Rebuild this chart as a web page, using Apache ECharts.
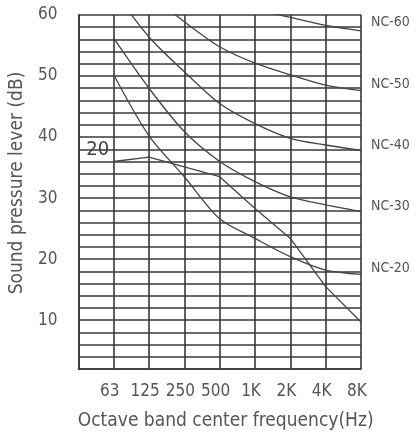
<!DOCTYPE html>
<html><head><meta charset="utf-8">
<script src="https://cdn.jsdelivr.net/npm/echarts@6/dist/echarts.min.js"></script>
<style>html,body{margin:0;padding:0;background:#fff}#c{width:417px;height:438px}</style>
</head><body><div id="c"></div>
<script>
// x categories: index 0 is the left edge of the chart (no label)
const xCats = ['', '63', '125', '250', '500', '1K', '2K', '4K', '8K'];
const yTicks = [10, 20, 30, 40, 50, 60];
const ncNames = ['NC-60', 'NC-50', 'NC-40', 'NC-30', 'NC-20'];
const nc60 = ['-', '-', '-', '-', 63, 61, 59.6, 58.3, 57.4];
const nc50 = ['-', '-', 63.5, 58.9, 54.8, 52.1, 50.2, 48.5, 47.6];
const nc40 = ['-', 64, 56.4, 50.7, 45.5, 42.2, 39.8, 38.7, 37.8];
const nc30 = ['-', 56.2, 48.0, 40.9, 36.0, 32.7, 30.2, 28.9, 27.8];
const nc20 = ['-', 50.2, 40.2, 33.5, 26.6, 23.4, 20.4, 18.2, 17.5];
const measured = ['-', 36.0, 36.7, 35.1, 33.5, 28.3, 23.4, 15.5, 9.7];
const measuredLabel = '20';

const FONT = "'Liberation Sans Narrow','DejaVu Sans Condensed','Roboto Condensed',sans-serif";
const GRID = '#383838';
const TXT = '#555';

function ncSeries(name, data, dy) {
  return {
    type: 'line', name: name, data: data, smooth: 0.3, symbol: 'none',
    lineStyle: { color: '#444', width: 1.3 }, silent: true, clip: true,
    endLabel: { show: true, formatter: name, color: TXT, fontSize: 14, fontFamily: FONT, distance: 10, offset: [0, dy] }
  };
}

const ncData = [nc60, nc50, nc40, nc30, nc20];
const ncOffsets = [-9, -6, -5, -5, -6];
const series = ncNames.map((n, i) => ncSeries(n, ncData[i], ncOffsets[i]));
series.push({
  type: 'line', name: 'measured', symbol: 'circle', symbolSize: 1, showSymbol: true,
  itemStyle: { color: 'rgba(0,0,0,0)' },
  lineStyle: { color: '#444', width: 1.3 }, silent: true,
  data: measured.map((v, i) => i === 1 ? {
    value: v,
    label: { show: true, formatter: measuredLabel, position: 'left', distance: 4, offset: [0, -12], fontSize: 20, color: '#444', fontFamily: FONT }
  } : v),
  label: { show: false }
});

const chart = echarts.init(document.getElementById('c'), null, { renderer: 'canvas' });
chart.setOption({
  animation: false,
  backgroundColor: '#fff',
  grid: { left: 76, right: 56, top: 15, bottom: 69, containLabel: false },
  xAxis: {
    type: 'category', data: xCats, boundaryGap: false,
    axisLine: { show: true, lineStyle: { color: GRID, width: 1.6 } },
    axisTick: { show: false },
    splitLine: { show: true, interval: 0, lineStyle: { color: GRID, width: 1.6 } },
    axisLabel: { interval: 0, margin: 14, padding: [0, 8, 0, 0], color: TXT, fontSize: 17, fontFamily: FONT },
    name: 'Octave band center frequency(Hz)', nameLocation: 'middle', nameGap: 43,
    nameTextStyle: { color: TXT, fontSize: 19, fontFamily: FONT, padding: [0, 0, 0, 12] }
  },
  yAxis: {
    type: 'value', min: 2, max: 60, interval: 2,
    axisLine: { show: true, lineStyle: { color: GRID, width: 1.6 } },
    axisTick: { show: false },
    splitLine: { show: true, lineStyle: { color: GRID, width: 1.6 } },
    axisLabel: { formatter: v => yTicks.includes(v) ? String(v) : '', margin: 21, color: TXT, fontSize: 17, fontFamily: FONT },
    name: 'Sound pressure lever (dB)', nameLocation: 'middle', nameGap: 50,
    nameTextStyle: { color: TXT, fontSize: 19, fontFamily: FONT, padding: [0, 0, 0, 18] }
  },
  series: series
});
</script></body></html>
